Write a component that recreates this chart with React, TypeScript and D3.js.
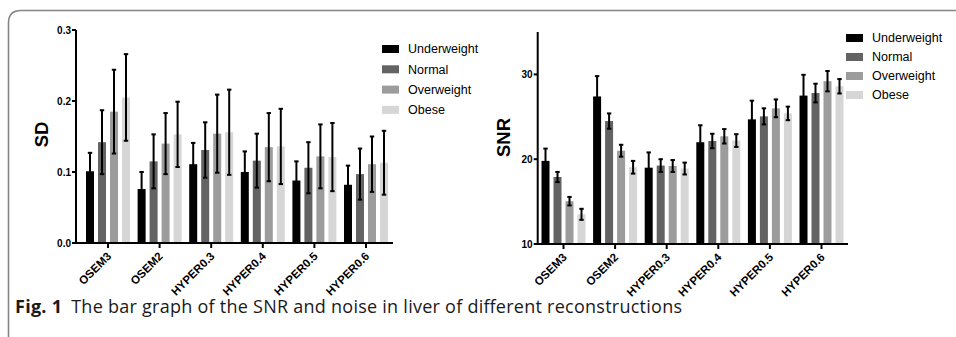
import React from 'react';
import * as d3 from 'd3';

const groups = ['OSEM3', 'OSEM2', 'HYPER0.3', 'HYPER0.4', 'HYPER0.5', 'HYPER0.6'];
const bmiClasses = ['Underweight', 'Normal', 'Overweight', 'Obese'];
const barColors = ['#000000', '#636363', '#9c9c9c', '#d6d6d6'];

// SD (noise) per BMI class, mean and SD error
const sdUnderweight = [0.101, 0.076, 0.111, 0.1, 0.088, 0.082];
const sdNormal = [0.142, 0.115, 0.131, 0.116, 0.106, 0.097];
const sdOverweight = [0.185, 0.14, 0.154, 0.135, 0.122, 0.111];
const sdObese = [0.205, 0.153, 0.156, 0.136, 0.121, 0.113];
const sdUnderweightErr = [0.026, 0.024, 0.03, 0.029, 0.027, 0.027];
const sdNormalErr = [0.045, 0.038, 0.039, 0.038, 0.036, 0.036];
const sdOverweightErr = [0.059, 0.043, 0.055, 0.048, 0.045, 0.039];
const sdObeseErr = [0.061, 0.046, 0.06, 0.053, 0.048, 0.045];

// SNR per BMI class
const snrUnderweight = [19.8, 27.4, 19.0, 22.0, 24.7, 27.5];
const snrNormal = [17.9, 24.5, 19.25, 22.15, 25.05, 27.8];
const snrOverweight = [15.05, 21.0, 19.2, 22.7, 26.0, 29.2];
const snrObese = [13.5, 19.05, 18.9, 22.2, 25.4, 28.6];
const snrUnderweightErr = [1.45, 2.4, 1.8, 2.0, 2.2, 2.45];
const snrNormalErr = [0.6, 0.9, 0.75, 0.85, 0.95, 1.1];
const snrOverweightErr = [0.5, 0.7, 0.7, 0.85, 1.05, 1.2];
const snrObeseErr = [0.65, 0.75, 0.7, 0.75, 0.8, 0.85];

const sdTicks = [0, 0.1, 0.2, 0.3];
const snrTicks = [10, 20, 30];

const sans = 'Liberation Sans, Arial, sans-serif';

type PanelProps = {
  means: number[][];
  errs: number[][];
  domain: [number, number];
  ticks: number[];
  tickFmt: (v: number) => string;
  title: string;
  axisX: number;
  axisEnd: number;
  groupStart: number;
  top: number;
  bottom: number;
  titleX: number;
  titleY: number;
  legendX: number;
  legendY: number;
  legendStep: number;
};

const Panel = (p: PanelProps) => {
  const y = d3.scaleLinear().domain(p.domain).range([p.bottom, p.top]);
  const x0 = d3.scaleBand<string>()
    .domain(groups)
    .range([p.groupStart, p.groupStart + 6 * 51.6])
    .padding(0);
  const x1 = d3.scaleBand<string>()
    .domain(bmiClasses)
    .range([0, x0.bandwidth()])
    .paddingInner(1 / 3)
    .paddingOuter(0.317);

  return (
    <g>
      {/* bars */}
      {groups.map((g, gi) => (
        <g key={g} transform={`translate(${x0(g)},0)`}>
          {bmiClasses.map((c, ci) => {
            const v = p.means[ci][gi];
            const e = p.errs[ci][gi];
            const bx = x1(c)!;
            const cx = bx + x1.bandwidth() / 2;
            return (
              <g key={c}>
                <rect x={bx} y={y(v)} width={x1.bandwidth()} height={y(p.domain[0]) - y(v)} fill={barColors[ci]} />
                <line x1={cx} x2={cx} y1={y(v - e)} y2={y(v + e)} stroke="#000" strokeWidth={2} />
                <line x1={cx - 2.2} x2={cx + 2.2} y1={y(v + e)} y2={y(v + e)} stroke="#000" strokeWidth={2} />
                <line x1={cx - 2.2} x2={cx + 2.2} y1={y(v - e)} y2={y(v - e)} stroke="#000" strokeWidth={2} />
              </g>
            );
          })}
        </g>
      ))}

      {/* axes */}
      <line x1={p.axisX} x2={p.axisX} y1={p.top} y2={p.bottom + 1} stroke="#000" strokeWidth={2} />
      <line x1={p.axisX - 1} x2={p.axisEnd} y1={p.bottom} y2={p.bottom} stroke="#000" strokeWidth={2} />
      {p.ticks.map(t => (
        <g key={t}>
          <line x1={p.axisX - 4} x2={p.axisX} y1={y(t)} y2={y(t)} stroke="#000" strokeWidth={2} />
          <text x={p.axisX - 5} y={y(t)} dy="0.35em" textAnchor="end" fontFamily={sans} fontWeight="bold" fontSize={10}>
            {p.tickFmt(t)}
          </text>
        </g>
      ))}
      {groups.map(g => {
        const cx = x0(g)! + x0.bandwidth() / 2;
        return (
          <g key={g}>
            <line x1={cx} x2={cx} y1={p.bottom} y2={p.bottom + 5} stroke="#000" strokeWidth={2} />
            <text
              transform={`translate(${cx + 4},${p.bottom + 14}) rotate(-45)`}
              textAnchor="end"
              fontFamily={sans}
              fontWeight="bold"
              fontSize={11.5}
            >
              {g}
            </text>
          </g>
        );
      })}
      <text
        transform={`translate(${p.titleX},${p.titleY}) rotate(-90)`}
        textAnchor="middle"
        dy="0.35em"
        fontFamily={sans}
        fontWeight="bold"
        fontSize={18.5}
      >
        {p.title}
      </text>

      {/* legend */}
      {bmiClasses.map((c, i) => (
        <g key={c} transform={`translate(${p.legendX},${p.legendY + i * p.legendStep})`}>
          <rect x={0} y={-4} width={17} height={8} fill={barColors[i]} />
          <text x={26} y={0} dy="0.35em" fontFamily={sans} fontSize={12.5}>{c}</text>
        </g>
      ))}
    </g>
  );
};

export default function App() {
  return (
    <svg
      width={956}
      height={337}
      style={{ position: 'absolute', left: 0, top: 0, background: '#fff' }}
    >
      <rect width={956} height={337} fill="#fff" />
      <path d="M 8.5 337 V 23 Q 8.5 10.5 21 10.5 H 956" fill="none" stroke="#858585" strokeWidth={1.6} />

      <Panel
        means={[sdUnderweight, sdNormal, sdOverweight, sdObese]}
        errs={[sdUnderweightErr, sdNormalErr, sdOverweightErr, sdObeseErr]}
        domain={[0, 0.3]}
        ticks={sdTicks}
        tickFmt={d3.format('.1f')}
        title="SD"
        axisX={76}
        axisEnd={393}
        groupStart={82.2}
        top={30}
        bottom={243}
        titleX={41.5}
        titleY={134.5}
        legendX={382}
        legendY={49}
        legendStep={20.3}
      />
      <Panel
        means={[snrUnderweight, snrNormal, snrOverweight, snrObese]}
        errs={[snrUnderweightErr, snrNormalErr, snrOverweightErr, snrObeseErr]}
        domain={[10, 35]}
        ticks={snrTicks}
        tickFmt={d3.format('d')}
        title="SNR"
        axisX={537.7}
        axisEnd={848}
        groupStart={537.7}
        top={32}
        bottom={244}
        titleX={504}
        titleY={137.5}
        legendX={846}
        legendY={38}
        legendStep={19}
      />

      <text x={15} y={313} fontFamily="Open Sans, sans-serif" fontSize={18} fill="#1a1a1a" textLength={667} lengthAdjust="spacing">
        <tspan fontWeight="bold">Fig. 1</tspan>
        <tspan dx={9}>The bar graph of the SNR and noise in liver of different reconstructions</tspan>
      </text>
    </svg>
  );
}
